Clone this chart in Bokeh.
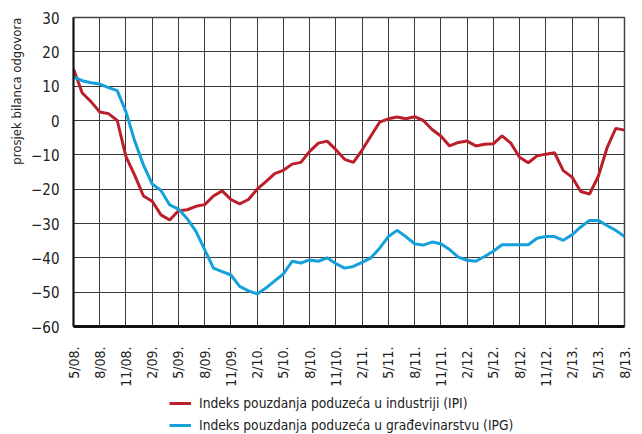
import math
from bokeh.plotting import figure
from bokeh.layouts import column
from bokeh.models import Range1d, FixedTicker, Legend, LegendItem, Title
from bokeh.embed import file_html
from bokeh.resources import INLINE

FONT = "DejaVu Sans Condensed, Roboto, sans-serif"

months = list(range(64))

ipi = [15, 8, 5.5, 2.5, 2, 0, -10.5, -16, -22, -23.5,
       -27.5, -29, -26.3, -26, -25, -24.5, -22, -20.5, -23, -24.3,
       -23, -20, -17.8, -15.5, -14.5, -12.7, -12.2, -9, -6.6, -6,
       -8.5, -11.3, -12.2, -8.6, -4.5, -0.5, 0.5, 1, 0.5, 1.1,
       0, -2.6, -4.5, -7.4, -6.4, -6, -7.4, -6.9, -6.8, -4.5,
       -6.6, -10.7, -12.3, -10.3, -9.8, -9.4, -14.6, -16.5, -20.7, -21.4,
       -16.3, -8, -2.3, -2.8]

ipg = [12.7, 11.6, 11, 10.6, 9.6, 8.7, 2.5, -6, -13, -18.5,
       -20.4, -24.6, -25.8, -28.6, -32.3, -37.6, -43, -44, -45, -48.3,
       -49.6, -50.5, -48.8, -46.7, -44.7, -41, -41.5, -40.6, -41, -40,
       -41.7, -43, -42.5, -41.3, -40, -37.2, -33.8, -32, -33.8, -35.9,
       -36.3, -35.4, -35.9, -37.6, -39.8, -40.7, -41, -39.6, -38.1, -36.2,
       -36.2, -36.2, -36.2, -34.3, -33.8, -33.8, -34.9, -33.3, -31, -29.1,
       -29.1, -30.6, -32, -33.8]

x_ticks = list(range(0, 64, 3))
x_labels = ["5/08.", "8/08.", "11/08.", "2/09.", "5/09.", "8/09.", "11/09.",
            "2/10.", "5/10.", "8/10.", "11/10.", "2/11.", "5/11.", "8/11.",
            "11/11.", "2/12.", "5/12.", "8/12.", "11/12.", "2/13.", "5/13.", "8/13."]

y_ticks = [-60, -50, -40, -30, -20, -10, 0, 10, 20, 30]
y_labels = ["\u221260", "\u221250", "\u221240", "\u221230", "\u221220", "\u221210",
            "0", "10", "20", "30"]

y_title = "prosjek bilanca odgovora"
names = ["Indeks pouzdanja poduze\u0107a u industriji (IPI)",
         "Indeks pouzdanja poduze\u0107a u gra\u0111evinarstvu (IPG)"]

RED = "#bb1f2a"
BLUE = "#14a0db"
TXT = "#222222"

p = figure(width=642, height=390, output_backend="svg", toolbar_location=None,
           x_range=Range1d(0, 63), y_range=Range1d(-60, 30),
           min_border_left=73, min_border_top=17, min_border_right=18,
           min_border_bottom=64)
p.background_fill_color = "white"
p.border_fill_color = "white"
p.outline_line_color = "#444444"
p.outline_line_width = 1.5

p.xaxis.ticker = FixedTicker(ticks=x_ticks)
p.yaxis.ticker = FixedTicker(ticks=y_ticks)
p.xaxis.major_label_overrides = {t: l for t, l in zip(x_ticks, x_labels)}
p.yaxis.major_label_overrides = {t: l for t, l in zip(y_ticks, y_labels)}
p.xaxis.major_label_orientation = math.pi / 2

for ax in (p.xaxis, p.yaxis):
    ax.major_tick_line_color = None
    ax.minor_tick_line_color = None
    ax.major_label_text_font = FONT
    ax.major_label_text_color = TXT
    ax.axis_line_color = "#111111"
p.yaxis.major_label_text_font_size = "15px"
p.xaxis.major_label_text_font_size = "14px"
p.xaxis.axis_line_width = 3
p.yaxis.axis_line_width = 2
p.xaxis.major_label_standoff = 14
p.yaxis.major_label_standoff = 8

p.xgrid.grid_line_color = "#3a3a3a"
p.ygrid.grid_line_color = "#3a3a3a"
p.xgrid.grid_line_width = 1
p.ygrid.grid_line_width = 1

p.line(months, ipi, line_color=RED, line_width=3)
p.line(months, ipg, line_color=BLUE, line_width=3)

p.add_layout(Title(text=y_title, align="right", offset=0,
                   text_font=FONT, text_font_size="13px",
                   text_font_style="normal", text_color=TXT), "left")

# legend strip below the chart
q = figure(width=642, height=44, output_backend="svg", toolbar_location=None,
           x_range=Range1d(0, 1), y_range=Range1d(0, 1),
           x_axis_type=None, y_axis_type=None, min_border=0)
q.outline_line_color = None
q.grid.visible = False
l1 = q.line([-5, -4], [-5, -4], line_color=RED, line_width=3)
l2 = q.line([-5, -4], [-5, -4], line_color=BLUE, line_width=3)

legend = Legend(items=[LegendItem(label=names[0], renderers=[l1]),
                       LegendItem(label=names[1], renderers=[l2])],
                location=(96, -2), orientation="vertical",
                padding=0, margin=0, spacing=0,
                label_height=22, glyph_height=22, glyph_width=22,
                label_standoff=8, label_text_font=FONT,
                label_text_font_size="13.7px", label_text_color=TXT,
                border_line_color=None, background_fill_alpha=0)
q.add_layout(legend, "center")

open("out.html", "w").write(file_html(column(p, q, spacing=0), INLINE))
